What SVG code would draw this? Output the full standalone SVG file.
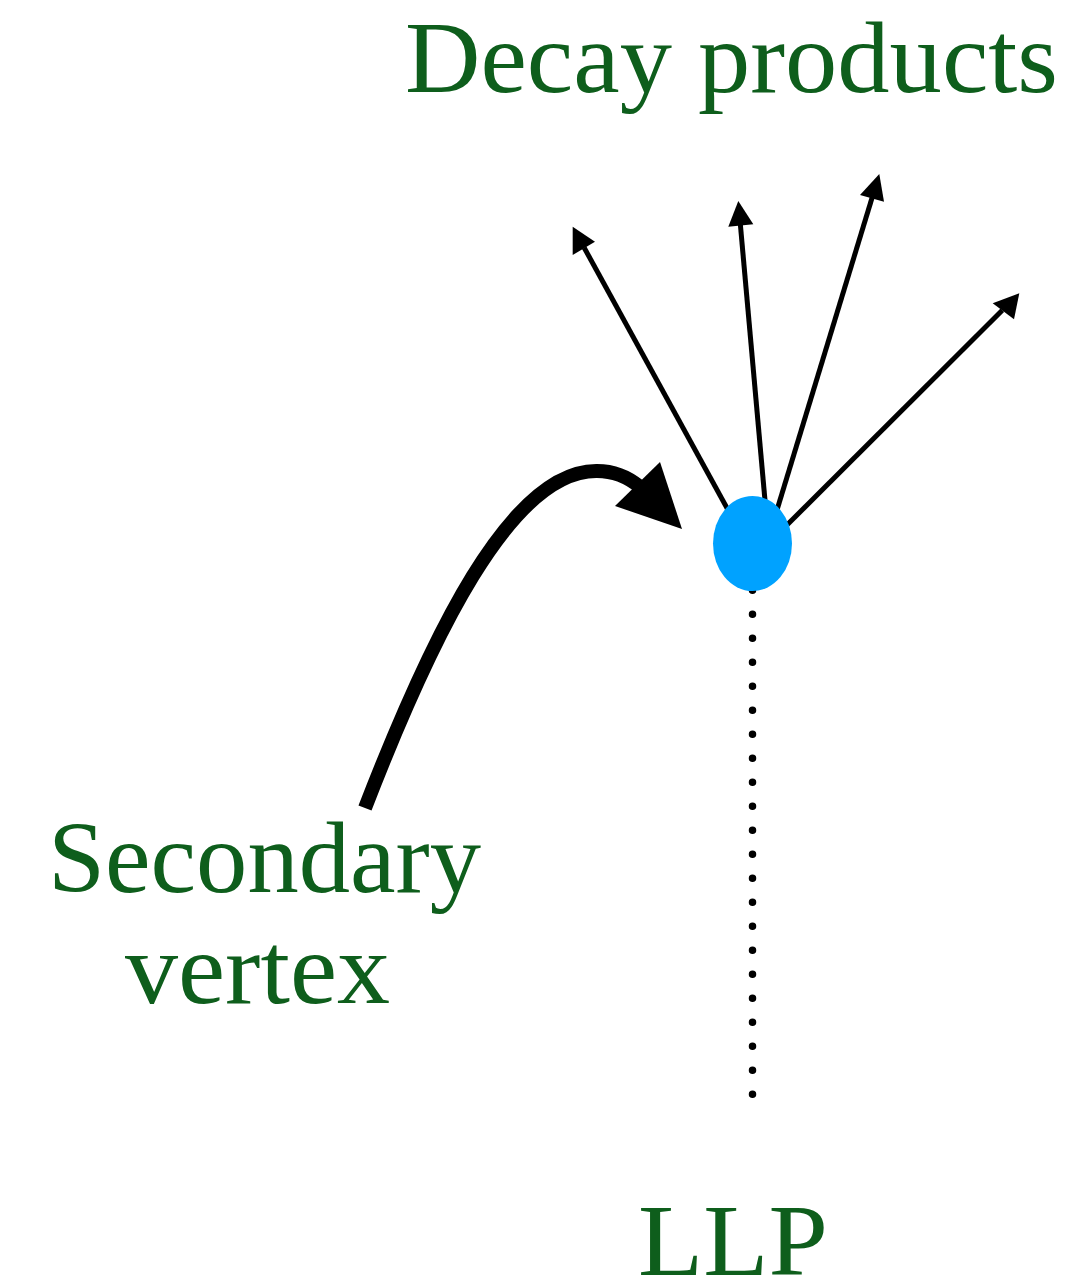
<svg xmlns="http://www.w3.org/2000/svg" width="1070" height="1286" viewBox="0 0 1070 1286">
<style>
.lbl{font-family:"Liberation Serif","DejaVu Serif",serif;font-size:102px;fill:#0E5E1C}
.ray{stroke:#000;stroke-width:5;fill:none}
.head{fill:#000}
</style>
<rect width="1070" height="1286" fill="#fff"/>
<g id="connectors">
<line id="llp-track" x1="752.5" y1="590.3" x2="752.5" y2="1097" stroke="#000" stroke-width="7.5" stroke-linecap="round" stroke-dasharray="0 24"/>
<g id="ray1"><line class="ray" x1="734.2" y1="521.2" x2="584.2" y2="247.7"/><polygon class="head" points="572.7,226.7 572.7,255 595,241.7"/></g>
<g id="ray2"><line class="ray" x1="766.3" y1="515" x2="740.4" y2="224.9"/><polygon class="head" points="738.3,201 728.3,226.7 753.3,224.3"/></g>
<g id="ray3"><line class="ray" x1="772.6" y1="524.4" x2="872.3" y2="197"/><polygon class="head" points="879.3,174 860,195 884,201.7"/></g>
<g id="ray4"><line class="ray" x1="776.4" y1="535.6" x2="1002.3" y2="310.3"/><polygon class="head" points="1019.3,293.3 992.7,303.3 1014,319.3"/></g>
<g id="sv-pointer"><path d="M365,808 C430,640 510,470 597,471 C615,471 628,477 640,487" stroke="#000" stroke-width="14" fill="none"/><polygon class="head" points="682,529 615,506 660,462"/></g>
</g>
<g id="vertex"><ellipse cx="752.5" cy="543.5" rx="39.5" ry="47.5" fill="#00A2FF"/></g>
<g id="label-decay"><text class="lbl" x="405" y="92" textLength="653" lengthAdjust="spacingAndGlyphs">Decay products</text></g>
<g id="label-sv"><text class="lbl" x="48" y="892" textLength="433" lengthAdjust="spacingAndGlyphs">Secondary</text><text class="lbl" x="125" y="1003" textLength="265" lengthAdjust="spacingAndGlyphs">vertex</text></g>
<g id="label-llp"><text class="lbl" x="638" y="1275" textLength="190" lengthAdjust="spacingAndGlyphs">LLP</text></g>
</svg>
